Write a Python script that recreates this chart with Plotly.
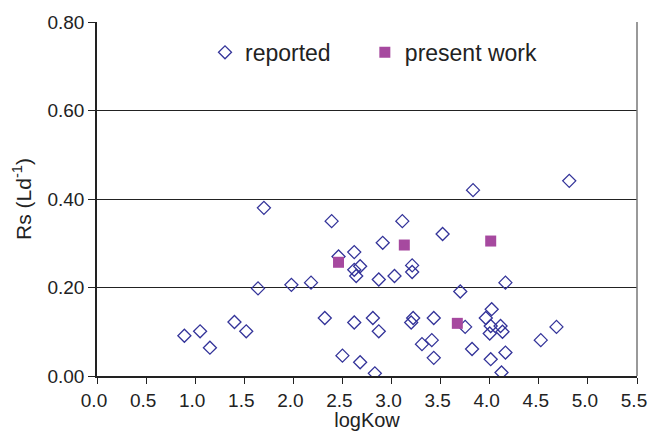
import plotly.graph_objects as go

reported_x = [0.89, 1.05, 1.15, 1.40, 1.52, 1.64, 1.70, 1.98, 2.18, 2.32, 2.39, 2.46, 2.50,
              2.62, 2.62, 2.62, 2.64, 2.68, 2.68, 2.81, 2.83, 2.87, 2.87, 2.91, 3.03, 3.11,
              3.20, 3.21, 3.21, 3.22, 3.31, 3.41, 3.43, 3.43, 3.52, 3.70, 3.75, 3.82, 3.83,
              3.96, 4.00, 4.01, 4.01, 4.02, 4.11, 4.12, 4.13, 4.16, 4.16, 4.52, 4.68, 4.81]
reported_y = [0.091, 0.101, 0.064, 0.122, 0.101, 0.198, 0.380, 0.206, 0.211, 0.131, 0.350, 0.270, 0.046,
              0.280, 0.240, 0.121, 0.226, 0.248, 0.031, 0.131, 0.006, 0.218, 0.101, 0.301, 0.226, 0.350,
              0.121, 0.235, 0.250, 0.131, 0.072, 0.081, 0.131, 0.041, 0.321, 0.191, 0.111, 0.061, 0.420,
              0.131, 0.096, 0.113, 0.038, 0.151, 0.113, 0.008, 0.100, 0.211, 0.053, 0.081, 0.111, 0.441]

present_x = [2.46, 3.13, 3.67, 4.01]
present_y = [0.257, 0.296, 0.119, 0.305]

x_ticks = [0.0, 0.5, 1.0, 1.5, 2.0, 2.5, 3.0, 3.5, 4.0, 4.5, 5.0, 5.5]
y_ticks = [0.0, 0.2, 0.4, 0.6, 0.8]

FONT = "Liberation Sans, Arial, sans-serif"

fig = go.Figure()
fig.add_trace(go.Scatter(
    x=reported_x, y=reported_y, mode="markers", name="reported", legend="legend",
    marker=dict(symbol="diamond-open", size=10, color="#333399", line=dict(width=1.3, color="#333399")),
))
fig.add_trace(go.Scatter(
    x=present_x, y=present_y, mode="markers", name="present work", legend="legend2",
    marker=dict(symbol="square", size=11, color="#A6499F", line=dict(width=0)),
))

leg_common = dict(orientation="h", y=0.975, xanchor="left", yanchor="top",
                  font=dict(size=23, color="#222"), bgcolor="rgba(0,0,0,0)")

fig.update_layout(
    width=648, height=431,
    margin=dict(l=97, r=11, t=22, b=55),
    paper_bgcolor="white", plot_bgcolor="white",
    font=dict(family=FONT, size=19, color="#222"),
    showlegend=True,
    legend=dict(x=0.2, **leg_common),
    legend2=dict(x=0.496, **leg_common),
    xaxis=dict(range=[0, 5.5], tickvals=x_ticks, tickformat=".1f", automargin=False,
               ticklabeloverflow="allow", ticklabelshift=-3,
               showgrid=False, zeroline=False, showline=True, linecolor="#222", linewidth=1.5,
               ticks="outside", ticklen=6, tickcolor="#222",
               title=dict(text="logKow", font=dict(size=20), standoff=7)),
    yaxis=dict(range=[0, 0.8], tickvals=y_ticks, tickformat=".2f", automargin=False,
               showgrid=True, gridcolor="#222", gridwidth=1, zeroline=False,
               showline=True, linecolor="#222", linewidth=1.5,
               ticks="outside", ticklen=7, tickcolor="#222",
               title=dict(text="Rs (Ld<sup>-1</sup>)", font=dict(size=21), standoff=10)),
)
fig.add_shape(type="line", xref="paper", yref="paper", x0=1, x1=1, y0=0, y1=1,
              line=dict(color="#777", width=1.5))

fig.write_html("out.html")
